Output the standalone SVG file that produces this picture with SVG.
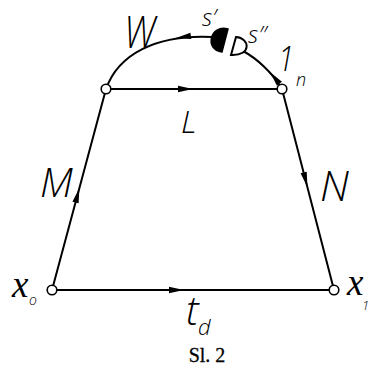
<svg xmlns="http://www.w3.org/2000/svg" width="369" height="369" viewBox="0 0 369 369">
<style>
.e{fill:none;stroke:#000;stroke-width:2;stroke-linecap:round}
.n{fill:#fff;stroke:#000;stroke-width:1.6}
.lb{font-family:"Open Sans","Liberation Sans",Arial,sans-serif;font-style:italic;font-weight:300;fill:#000}
.lx{font-family:"Liberation Serif","Times New Roman",serif;font-style:italic;fill:#000}
.cap{font-family:"Liberation Serif","Times New Roman",serif;fill:#000;stroke:#000;stroke-width:0.3}
</style>
<defs>
<path id="ah" d="M0,0 L-15,-3.2 L-15,3.2 Z" fill="#000"/>
</defs>
<rect width="369" height="369" fill="#fff"/>
<g id="connectors">
<line class="e" x1="106" y1="89" x2="282" y2="89"/>
<line class="e" x1="52" y1="290" x2="106" y2="89"/>
<line class="e" x1="282" y1="89" x2="334" y2="290"/>
<line class="e" x1="52" y1="290" x2="334" y2="290"/>
<path class="e" d="M106,89 C118,55 155,34 213,37"/>
<path class="e" d="M243,51 C256,58 272,72 282,89"/>
<use href="#ah" transform="translate(193,89)"/>
<use href="#ah" transform="translate(184,290)"/>
<use href="#ah" transform="translate(79.4,188) rotate(-75)"/>
<use href="#ah" transform="translate(307.4,187) rotate(75.5)"/>
<use href="#ah" transform="translate(176,38) rotate(172)"/>
<use href="#ah" transform="translate(270,72) rotate(231)"/>
</g>
<g id="valve">
<path d="M228,29 C210,24 204,50 222,52 Z" fill="#000" stroke="#000" stroke-width="1.5"/>
<path d="M236,37 C250,38 252,56 231,55 Z" fill="#fff" stroke="#000" stroke-width="2"/>
</g>
<g id="node-tl"><circle class="n" cx="106" cy="89" r="4.8"/></g>
<g id="node-tr"><circle class="n" cx="282" cy="89" r="4.8"/></g>
<g id="node-x0"><circle class="n" cx="52" cy="290" r="4.8"/></g>
<g id="node-x1"><circle class="n" cx="334" cy="290" r="4.8"/></g>
<g id="labels">
<text class="lb" x="124" y="48" font-size="44" textLength="31" lengthAdjust="spacingAndGlyphs">W</text>
<text class="lb" x="181" y="133" font-size="32">L</text>
<text class="lb" x="40" y="197" font-size="40">M</text>
<text class="lb" x="320" y="201" font-size="42">N</text>
<text class="lb" x="202" y="26" font-size="24">s′</text>
<text class="lb" x="248" y="43" font-size="24">s″</text>
<text class="lb" x="278" y="71" font-size="34" textLength="16" lengthAdjust="spacingAndGlyphs">1</text>
<text class="lb" x="296" y="86" font-size="18">n</text>
<text class="lx" x="12" y="297" font-size="37">x</text>
<text class="lb" x="29" y="305" font-size="14">o</text>
<text class="lx" x="347" y="295" font-size="37">x</text>
<text class="lb" x="362" y="310" font-size="13">1</text>
<text class="lb" x="186" y="325" font-size="40">t</text>
<text class="lb" x="198" y="335" font-size="22">d</text>
<text class="cap" x="207" y="362" font-size="20" text-anchor="middle">Sl.  2</text>
</g>
</svg>
